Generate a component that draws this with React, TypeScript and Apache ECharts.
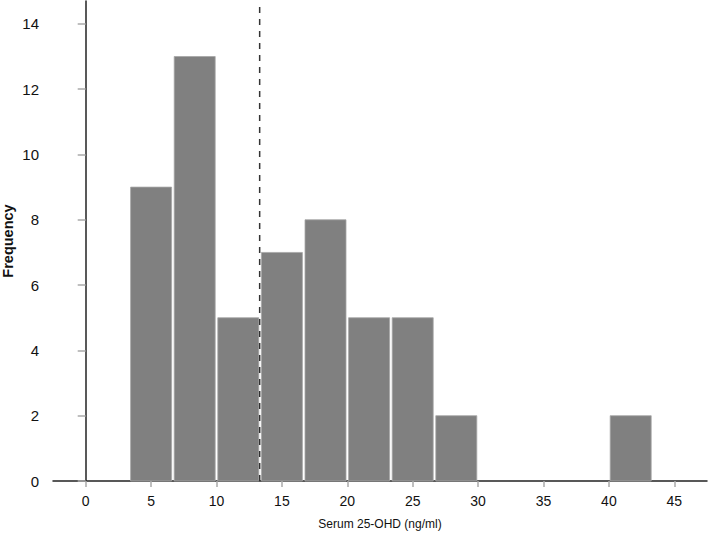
import React, { useEffect, useRef } from "react";
import * as echarts from "echarts";

const binStarts = [3.333, 6.667, 10, 13.333, 16.667, 20, 23.333, 26.667, 40];
const binEnds = [6.667, 10, 13.333, 16.667, 20, 23.333, 26.667, 30, 43.333];
const counts = [9, 13, 5, 7, 8, 5, 5, 2, 2];
const xTicks = [0, 5, 10, 15, 20, 25, 30, 35, 40, 45];
const yTicks = [0, 2, 4, 6, 8, 10, 12, 14];
const cutoff = 13.3;

export default function App() {
  const ref = useRef<HTMLDivElement>(null);
  useEffect(() => {
    if (!ref.current) return;
    const chart = echarts.init(ref.current, null, { renderer: "svg" });
    const data = counts.map((c, i) => [binStarts[i], binEnds[i], c]);
    const font = "Liberation Sans, Arial, sans-serif";
    chart.setOption({
      animation: false,
      backgroundColor: "#ffffff",
      grid: { left: 53, right: 2, top: 1, bottom: 55, containLabel: false },
      xAxis: {
        type: "value",
        min: -2.5,
        max: 47.5,
        splitLine: { show: false },
        axisLine: { show: true, onZero: false, lineStyle: { color: "#222", width: 1.5 } },
        axisTick: { show: true, length: 6, lineStyle: { color: "#aaa", width: 1.5 }, customValues: xTicks },
        axisLabel: { customValues: xTicks, color: "#111", fontSize: 14, fontFamily: font, margin: 13 },
      },
      yAxis: {
        type: "value",
        min: 0,
        max: 14.7,
        splitLine: { show: false },
        axisLine: { show: true, lineStyle: { color: "#222", width: 1.5 } },
        axisTick: { show: true, length: 8, lineStyle: { color: "#aaa", width: 1.5 }, customValues: yTicks },
        axisLabel: { customValues: yTicks, color: "#111", fontSize: 15, fontFamily: font, margin: 14 },
      },
      series: [
        {
          type: "custom",
          data,
          renderItem: (params: any, api: any) => {
            const p0 = api.coord([api.value(0), api.value(2)]);
            const p1 = api.coord([api.value(1), 0]);
            const x0 = p0[0] + 1.3;
            const x1 = p1[0] - 1.3;
            return {
              type: "rect",
              shape: { x: x0, y: p0[1], width: x1 - x0, height: p1[1] - p0[1] },
              style: { fill: "#808080", stroke: "#a6a6a6", lineWidth: 0.8 },
            };
          },
          encode: { x: [0, 1], y: 2 },
          z: 2,
        },
        {
          type: "line",
          data: [
            [cutoff, 0],
            [cutoff, 14.6],
          ],
          symbol: "none",
          lineStyle: { color: "#333", width: 1.5, type: [6, 6] },
          z: 3,
        },
      ],
      graphic: [
        {
          type: "text",
          x: 8,
          y: 241,
          rotation: Math.PI / 2,
          style: {
            text: "Frequency",
            fill: "#111",
            font: `bold 14.5px ${font}`,
            align: "center",
            verticalAlign: "middle",
          },
        },
        {
          type: "text",
          x: 380,
          y: 524,
          style: {
            text: "Serum 25-OHD (ng/ml)",
            fill: "#111",
            font: `12px ${font}`,
            align: "center",
            verticalAlign: "middle",
          },
        },
      ],
    });
    return () => chart.dispose();
  }, []);
  return <div ref={ref} style={{ width: 709, height: 536, position: "absolute", left: 0, top: 0 }} />;
}
